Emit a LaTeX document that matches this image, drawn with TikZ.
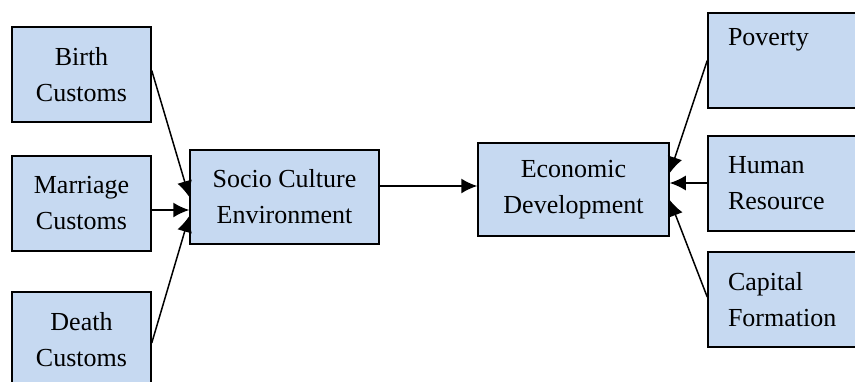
\documentclass[tikz,border=0pt]{standalone}
\usepackage{fontspec}
\setmainfont{Liberation Serif}
\usetikzlibrary{arrows.meta}
\definecolor{boxblue}{HTML}{C6D9F1}

\begin{document}
\begin{tikzpicture}[
    x=1pt, y=1pt,
    box/.style={draw, line width=1.5pt, fill=boxblue, inner sep=0pt, align=center,
                font=\fontsize{26}{36}\selectfont},
    sidebox/.style={box, align=left, text width=122pt},
    link/.style={->, line width=1.5pt},
    >={Latex[length=16pt,width=15pt]}
]
    \clip (0,0) rectangle (855,-381);

    % 1. Customs column (left)
    \node[box, minimum width=139pt, minimum height=95pt] (birth) at (81.5,-74.5) {Birth\\Customs};
    \node[box, minimum width=139pt, minimum height=95pt] (marriage) at (81.5,-203.5) {Marriage\\Customs};
    \node[box, minimum width=139pt, minimum height=95pt] (death) at (81.5,-339.5) {Death\\Customs};

    % 2. Middle row
    \node[box, minimum width=189pt, minimum height=94pt] (socio) at (284.5,-197) {Socio Culture\\Environment};
    \node[box, minimum width=191pt, minimum height=93pt] (econ) at (573.5,-189.5) {Economic\\Development};

    % 3. Factors column (right), text sits at the top left
    \node[sidebox, minimum width=162pt, minimum height=95pt] (poverty) at (789,-60.5) {Poverty\\\strut};
    \node[sidebox, minimum width=162pt, minimum height=95pt] (human) at (789,-183.5) {Human\\Resource};
    \node[sidebox, minimum width=162pt, minimum height=95pt] (capital) at (789,-299.5) {Capital\\Formation};

    % Arrows into the socio culture box
    \draw[link] ([yshift=4pt]birth.east) -- (socio.west);
    \draw[link] ([yshift=-6.5pt]marriage.east) -- ([yshift=-13pt]socio.west);
    \draw[link] ([yshift=-3.5pt]death.east) -- ([yshift=-19pt]socio.west);

    % Main link
    \draw[link] ([yshift=11pt]socio.east) -- ([yshift=3.5pt]econ.west);

    % Arrows into economic development
    \draw[link] (poverty.west) -- ([yshift=16.5pt]econ.east);
    \draw[link] ([yshift=0.5pt]human.west) -- ([yshift=6.5pt]econ.east);
    \draw[link] ([yshift=2.5pt]capital.west) -- ([yshift=-10.5pt]econ.east);

\end{tikzpicture}
\end{document}
